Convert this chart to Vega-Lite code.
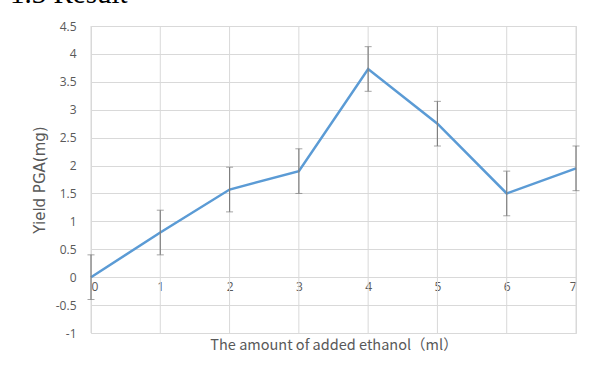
{
  "$schema": "https://vega.github.io/schema/vega-lite/v6.json",
  "width": 485,
  "height": 307,
  "autosize": {"type": "none"},
  "padding": {"left": 91, "top": 26, "right": 16, "bottom": 36},
  "background": "white",
  "title": {
    "text": "1.3 Result",
    "font": "Liberation Serif",
    "fontSize": 29,
    "fontWeight": "normal",
    "color": "#000000",
    "anchor": "start",
    "frame": "group",
    "baseline": "alphabetic",
    "dx": -81,
    "offset": -12
  },
  "data": {
    "values": [
      {"x": 0, "y": 0, "lo": -0.4, "hi": 0.4},
      {"x": 1, "y": 0.8, "lo": 0.4, "hi": 1.2},
      {"x": 2, "y": 1.57, "lo": 1.17, "hi": 1.97},
      {"x": 3, "y": 1.9, "lo": 1.5, "hi": 2.3},
      {"x": 4, "y": 3.73, "lo": 3.33, "hi": 4.13},
      {"x": 5, "y": 2.75, "lo": 2.35, "hi": 3.15},
      {"x": 6, "y": 1.5, "lo": 1.1, "hi": 1.9},
      {"x": 7, "y": 1.95, "lo": 1.55, "hi": 2.35}
    ]
  },
  "config": {
    "view": {"stroke": "#d9d9d9", "strokeWidth": 1},
    "axis": {
      "labelFont": "Open Sans",
      "labelFontSize": 12,
      "labelColor": "#595959",
      "titleFont": "Noto Sans CJK JP",
      "titleFontSize": 14.5,
      "titleFontWeight": "normal",
      "titleColor": "#595959"
    }
  },
  "layer": [
    {
      "mark": {"type": "rule", "color": "#d9d9d9", "strokeWidth": 1},
      "encoding": {
        "x": {"field": "x", "type": "quantitative", "scale": {"domain": [0, 7], "nice": false}}
      }
    },
    {
      "mark": {"type": "line", "color": "#5b9bd5", "strokeWidth": 2.5},
      "encoding": {
        "x": {
          "field": "x",
          "type": "quantitative",
          "scale": {"domain": [0, 7], "nice": false},
          "axis": {
            "values": [0, 1, 2, 3, 4, 5, 6, 7],
            "format": "d",
            "domain": false,
            "ticks": false,
            "grid": false,
            "offset": -56,
            "labelPadding": 4,
            "title": "The amount of added ethanol（ml）",
            "titlePadding": 46
          }
        },
        "y": {
          "field": "y",
          "type": "quantitative",
          "scale": {"domain": [-1, 4.5], "nice": false, "zero": false},
          "axis": {
            "values": [-1, -0.5, 0, 0.5, 1, 1.5, 2, 2.5, 3, 3.5, 4, 4.5],
            "labelExpr": "toString(datum.value)",
            "domain": false,
            "ticks": false,
            "grid": true,
            "gridColor": "#d9d9d9",
            "labelPadding": 15,
            "title": "Yield PGA(mg)",
            "titleFont": "DejaVu Sans",
            "titleFontSize": 15,
            "titlePadding": 8
          }
        }
      }
    },
    {
      "mark": {"type": "errorbar", "color": "#7f7f7f", "ticks": {"size": 7, "color": "#7f7f7f"}, "rule": {"strokeWidth": 1.2}},
      "encoding": {
        "x": {"field": "x", "type": "quantitative", "axis": {"values": [0, 1, 2, 3, 4, 5, 6, 7], "format": "d", "domain": false, "ticks": false, "grid": false, "offset": -56, "labelPadding": 4, "title": "The amount of added ethanol（ml）", "titlePadding": 46}},
        "y": {
          "field": "lo",
          "type": "quantitative",
          "axis": {
            "values": [-1, -0.5, 0, 0.5, 1, 1.5, 2, 2.5, 3, 3.5, 4, 4.5],
            "labelExpr": "toString(datum.value)",
            "domain": false,
            "ticks": false,
            "grid": true,
            "gridColor": "#d9d9d9",
            "labelPadding": 15,
            "title": "Yield PGA(mg)",
            "titleFont": "DejaVu Sans",
            "titleFontSize": 15,
            "titlePadding": 8
          }
        },
        "y2": {"field": "hi"}
      }
    }
  ]
}
